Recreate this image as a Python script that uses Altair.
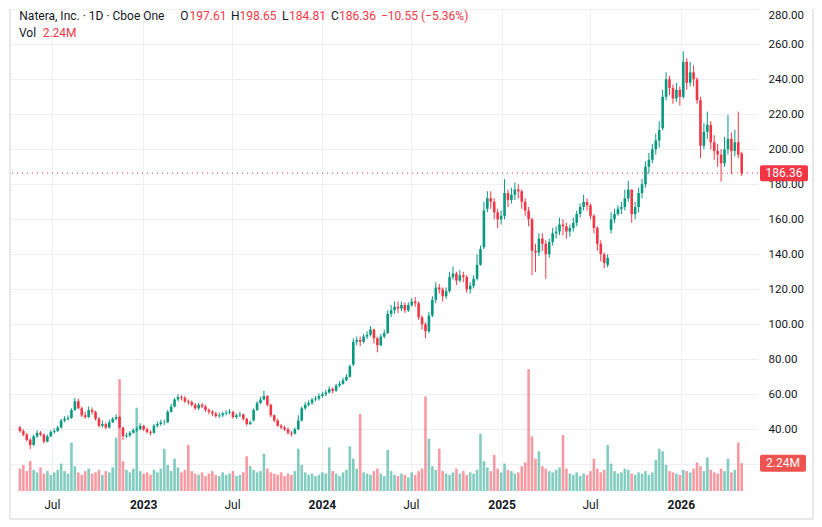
import altair as alt
import pandas as pd

FONT = "Roboto"
UP = "#089981"
DOWN = "#F23645"
INK = "#131722"
GRID = "#EEF0F4"
FRAME = "#E6E8EC"

# weekly candles (first week starting 2022-04-27)
WEEK_START = "2022-04-27"

opens = [
    41, 39, 37, 34, 31, 36, 38, 37, 33, 36,
    38.5, 39, 41, 45, 46, 46.5, 51, 56, 52, 48,
    47, 51, 50, 46, 42, 43, 41, 44, 46, 47,
    41, 36, 36.5, 38, 39.5, 40, 42, 40, 38.5, 38,
    42, 43, 44, 44, 50, 53, 57, 58.5, 58, 56,
    55.5, 54, 52, 54, 53, 51, 50, 49, 47.5, 48,
    49, 49.5, 50, 47, 48, 48.5, 46, 43, 45, 51,
    55, 57, 59, 54, 48, 45, 42, 41, 40, 38,
    37.5, 40, 45, 52, 54, 55, 57, 57.5, 59, 60,
    61, 63, 62, 65, 66, 68, 70, 77, 90, 91,
    90, 93, 94, 97, 92, 88, 93, 95, 106, 108,
    110, 109, 111, 108, 111, 113, 112, 104, 100, 96,
    105, 114, 121, 120, 116, 119, 127, 129, 125, 128,
    127, 120, 122, 126, 134, 144, 166, 172, 170, 164,
    160, 162, 175, 171, 174, 177, 176, 170, 165, 160,
    142, 141, 149, 146, 140, 147, 152, 153, 157, 156,
    153, 155, 158, 163, 167, 170, 168, 162, 155, 146,
    140, 134, 154, 160, 163, 166, 167, 172, 177, 163,
    167, 175, 180, 190, 194, 200, 205, 212, 230, 240,
    235, 229, 234, 230, 250, 238, 244, 240, 228, 202,
    210, 214, 204, 199, 197, 192, 200, 206, 199, 204, 197.61,
]
highs = [
    42, 40, 38, 35, 37, 39.5, 39, 37.5, 37, 39.5,
    40.5, 42, 46, 47.5, 48, 52, 58, 57.5, 53, 50,
    53, 52.5, 50.5, 47, 45, 44, 45.5, 47, 48.5, 47.5,
    41.5, 38, 39, 40.5, 41.5, 43.5, 42.5, 41, 39.5, 43,
    44.5, 45.5, 45.5, 51, 54.5, 58, 60, 59.5, 59, 57,
    56.5, 55, 55, 55, 54, 52, 51, 50, 49.5, 50,
    51, 51.5, 50.5, 49, 50, 49, 46.5, 45, 52, 56,
    58.5, 62, 59.5, 54.5, 48.5, 46, 43, 42, 41, 39,
    41, 48, 53, 55.5, 56.5, 58, 59, 60.5, 61.5, 62.5,
    64.5, 64, 66, 67.5, 69.5, 71.5, 77, 92, 93, 93,
    94.5, 96, 99, 97.5, 93, 94.5, 97, 108, 111, 113,
    113, 113, 112.5, 112.5, 115, 115.5, 113, 105, 101, 107,
    116, 124, 123, 121, 121, 130, 133, 130, 131, 130,
    128, 124, 128, 140, 145, 170, 176, 176, 172, 166,
    165, 183, 177, 178, 181, 180, 177, 172, 167, 161,
    146, 152, 152, 148, 149, 155, 156, 161, 160, 158,
    157, 161, 165, 169, 174, 172, 169, 163, 156, 148,
    141, 140, 164, 166, 168, 170, 177, 182, 177, 170,
    178, 183, 193, 198, 203, 209, 216, 234, 244, 242,
    237, 238, 236, 256, 252, 250, 248, 241, 230, 215,
    221.5, 216, 208, 203, 200, 207, 219.6, 209.6, 211, 221.5, 198.65,
]
lows = [
    38, 36, 33, 28.7, 30.5, 35, 36, 32, 32.5, 35.5,
    37.5, 38.5, 40.5, 44, 45, 46, 50.5, 51.5, 47, 46,
    46.5, 48.5, 45, 41, 41, 40, 40.5, 43.5, 45, 40.5,
    34, 35, 35.5, 37.5, 38.5, 39.5, 39, 37.5, 36.5, 37.5,
    41, 42, 42.5, 43.5, 49.5, 52.5, 56, 56.5, 55, 54,
    53, 51, 51, 52, 50, 48.5, 47.5, 46.5, 46.5, 47,
    48, 48.5, 46, 46, 47, 45, 42, 42.5, 44.5, 50.5,
    54.5, 56.5, 53, 47, 44, 41.5, 40, 39, 37, 36,
    37, 39.5, 44.5, 51, 53, 54, 56, 56.5, 58, 59,
    60.5, 60.5, 61.5, 64, 65.5, 67.5, 69.5, 76, 88, 87.5,
    89, 91.5, 93, 89, 84, 87.5, 92, 94.5, 104, 106,
    106.5, 107.5, 106.5, 107, 110, 110, 102.5, 97, 92, 95,
    104, 112, 117.5, 113, 114.5, 118, 125.5, 122.5, 124, 124,
    118, 117.5, 120.5, 125, 133.5, 143, 164, 166, 160, 155,
    157, 160, 167, 169, 171, 172, 166, 162, 156, 128,
    130, 139, 142, 126, 138, 145, 149, 151, 151, 149,
    150, 153, 156, 161, 165, 165, 160, 152, 142, 136,
    132, 132.5, 152, 158, 162, 163, 165, 170, 158, 160,
    164, 172, 178, 186, 192, 197, 201, 211, 228, 231,
    226, 227, 225, 229, 234, 236, 236, 226, 195, 200,
    206, 200, 194, 190, 181.5, 190, 197, 186, 196, 195, 184.81,
]
closes = [
    39, 37, 34, 31, 36, 38, 37, 33, 36, 38.5,
    39, 41, 45, 46, 46.5, 51, 56, 52, 48, 47,
    51, 50, 46, 42, 43, 41, 44, 46, 47, 41,
    36, 36.5, 38, 39.5, 40, 42, 40, 38.5, 38, 42,
    43, 44, 44, 50, 53, 57, 58.5, 58, 56, 55.5,
    54, 52, 54, 53, 51, 50, 49, 47.5, 48, 49,
    49.5, 50, 47, 48, 48.5, 46, 43, 44, 51, 55,
    57, 59, 54, 48, 45, 42, 41, 40, 38, 37.5,
    40, 45, 52, 54, 55, 57, 57.5, 59, 60, 61,
    63, 62, 65, 66, 68, 70, 76, 90, 91, 90,
    93, 94, 97, 92, 88, 93, 95, 106, 108, 110,
    109, 111, 108, 111, 113, 112, 104, 100, 96, 105,
    114, 121, 120, 116, 119, 127, 129, 125, 128, 127,
    120, 122, 126, 134, 143, 165, 172, 170, 164, 160,
    162, 175, 171, 174, 177, 176, 170, 165, 160, 142,
    141, 149, 146, 140, 147, 152, 153, 157, 156, 153,
    155, 158, 163, 167, 170, 168, 162, 155, 146, 140,
    135, 138, 160, 163, 166, 167, 172, 177, 163, 167,
    175, 180, 190, 194, 200, 205, 211, 230, 240, 235,
    229, 234, 230, 250, 238, 244, 240, 228, 202, 210,
    214, 204, 199, 197, 192, 200, 206, 199, 204, 196.91, 186.36,
]
volumes_m = [
    1.8, 2.1, 1.6, 2.4, 1.7, 1.5, 1.9, 1.4, 1.6, 1.3,
    1.5, 1.7, 2.2, 1.6, 1.4, 3.9, 2.0, 1.5, 1.3, 1.6,
    1.8, 1.4, 1.5, 1.7, 1.3, 1.6, 1.5, 1.9, 4.3, 9.0,
    2.4, 1.7, 1.5, 1.8, 6.7, 1.6, 1.4, 1.5, 1.3, 1.7,
    1.5, 1.8, 3.4, 2.1, 1.6, 2.6, 1.9, 1.5, 1.7, 3.7,
    1.6, 1.4, 1.3, 1.5, 1.2, 1.4, 1.6, 1.3, 1.2, 1.5,
    1.3, 1.4, 1.6, 1.2, 1.3, 1.5, 2.8, 2.0, 1.7, 1.5,
    1.6, 3.0, 1.8, 1.5, 1.4, 1.3, 1.5, 1.2, 1.4, 1.3,
    1.6, 3.4, 2.1, 1.5, 1.3, 1.4, 1.2, 1.3, 1.5, 1.4,
    3.5, 1.6, 1.4, 1.2, 1.5, 1.7, 3.6, 2.6, 1.8, 6.2,
    1.5, 1.4, 1.3, 1.6, 1.8, 1.4, 1.2, 3.3, 1.6, 1.3,
    1.2, 1.4, 1.3, 1.1, 1.5, 1.3, 1.6, 1.8, 7.6, 4.2,
    2.0, 1.7, 3.4, 1.6, 1.4, 1.3, 1.5, 1.8, 1.4, 1.6,
    1.3, 1.5, 1.4, 1.7, 4.6, 2.4, 1.9, 1.6, 2.9, 1.8,
    1.5, 2.2, 1.7, 1.6, 1.4, 1.5, 2.0, 2.3, 9.8, 4.4,
    2.6, 3.2, 2.0, 1.8, 1.6, 1.5, 1.7, 1.9, 4.5, 1.8,
    1.4, 1.3, 1.5, 1.2, 1.4, 1.3, 1.6, 2.6, 1.8, 1.5,
    1.7, 3.7, 2.2, 1.6, 1.4, 1.5, 1.8, 1.7, 1.4, 1.3,
    1.5, 1.4, 1.6, 1.3, 1.5, 2.5, 3.4, 3.2, 2.1, 1.6,
    1.5, 1.4, 1.3, 1.7, 1.6, 1.5, 1.8, 2.3, 2.0, 1.6,
    2.7, 1.7, 1.5, 1.4, 1.8, 1.6, 2.6, 1.5, 1.7, 3.9, 2.24,
]

TICK_DATES = [(2022, 7, 1), (2023, 1, 3), (2023, 7, 3), (2024, 1, 2),
              (2024, 7, 1), (2025, 1, 2), (2025, 7, 1), (2026, 1, 2)]
PRICE_TICKS = [20, 40, 60, 80, 100, 120, 140, 160, 180, 200, 220, 240, 260, 280]

TITLE = "Natera, Inc. · 1D · Cboe One"

n = len(closes)
df = pd.DataFrame({
    "date": pd.date_range(WEEK_START, periods=n, freq="7D").strftime("%Y-%m-%d"),
    "open": opens, "high": highs, "low": lows, "close": closes, "vol": volumes_m,
})
df["dir"] = ["up" if c >= o else "down" for o, c in zip(opens, closes)]
one = pd.DataFrame({"k": [0]})

last_o, last_h, last_l, last_c = opens[-1], highs[-1], lows[-1], closes[-1]
chg = last_c - closes[-2]
pct = chg / closes[-2] * 100
last_vol = volumes_m[-1]


def dt(y, m, d):
    return alt.DateTime(year=y, month=m, date=d, utc=True)


x_scale = alt.Scale(type="utc", domain=[dt(2022, 4, 15), dt(2026, 5, 29)])
x_axis = alt.Axis(
    values=[dt(*t) for t in TICK_DATES],
    labelExpr="utcmonth(datum.value) == 0 ? utcFormat(datum.value, '%Y') : utcFormat(datum.value, '%b')",
    labelFontWeight={"condition": {"test": "utcmonth(datum.value) == 0", "value": "bold"}, "value": "normal"},
    labelFont=FONT, labelFontSize=12, labelColor=INK, labelPadding=8,
    labelFlush=False, labelOverlap=False, ticks=False, domain=False,
    grid=True, gridColor=GRID, gridWidth=1, title=None,
)
X = alt.X("date:T", scale=x_scale, axis=x_axis)

color_scale = alt.Scale(domain=["up", "down"], range=[UP, DOWN])
C = alt.Color("dir:N", scale=color_scale, legend=None)

y_scale = alt.Scale(domain=[4.74, 280.74], nice=False, zero=False)
y_axis = alt.Axis(
    orient="right", values=PRICE_TICKS,
    labelExpr="datum.value < 30 ? '' : format(datum.value, '.2f')",
    labelBaseline={"condition": {"test": "datum.value >= 280", "value": "top"}, "value": "middle"},
    labelFont=FONT, labelFontSize=11.5, labelColor=INK, labelPadding=10,
    labelOverlap=False, labelFlush=False,
    ticks=False, domain=False, grid=True, gridColor=GRID, gridWidth=1, title=None,
)
Y_LAST = alt.YDatum(last_c, scale=y_scale, axis=y_axis)

wicks = alt.Chart(df).mark_rule(strokeWidth=1).encode(
    x=X, y=alt.Y("low:Q", scale=y_scale, axis=y_axis), y2="high:Q", color=C)
bodies = alt.Chart(df).mark_bar(size=2.6).encode(
    x=X, y=alt.Y("open:Q", scale=y_scale, axis=y_axis), y2="close:Q", color=C)
price_line = alt.Chart(one).mark_rule(color=DOWN, strokeDash=[1, 4], strokeWidth=1).encode(
    y=Y_LAST)
price_box = alt.Chart(one).mark_rect(color=DOWN, cornerRadius=2, yOffset=-8, y2Offset=8).encode(
    x=alt.value(751), x2=alt.value(799), y=Y_LAST, y2=alt.Y2Datum(last_c))
price_text = alt.Chart(one).mark_text(color="white", font=FONT, fontSize=12, align="center", baseline="middle").encode(
    x=alt.value(775), y=Y_LAST, text=alt.value(f"{last_c:.2f}"))
price_group = alt.layer(wicks, bodies, price_line, price_box, price_text)

v_scale = alt.Scale(domain=[0, 38.86], nice=False)
Y_VOL = alt.YDatum(last_vol, scale=v_scale, axis=None)
vol_bars = alt.Chart(df).mark_bar(size=2.6, opacity=0.5).encode(
    x=X, y=alt.Y("vol:Q", scale=v_scale, axis=None), color=C)
vol_box = alt.Chart(one).mark_rect(color="#EF5350", cornerRadius=2, yOffset=-8.5, y2Offset=8.5).encode(
    x=alt.value(751), x2=alt.value(797), y=Y_VOL, y2=alt.Y2Datum(last_vol))
vol_text = alt.Chart(one).mark_text(color="white", font=FONT, fontSize=12, align="center", baseline="middle").encode(
    x=alt.value(774), y=Y_VOL, text=alt.value(f"{last_vol:.2f}M"))
vol_group = alt.layer(vol_bars, vol_box, vol_text)

header_pieces = [
    (TITLE, 10.3, 8, INK),
    ("O", 171.3, 8, INK), (f"{last_o:.2f}", 180.5, 8, DOWN),
    ("H", 222, 8, INK), (f"{last_h:.2f}", 230.5, 8, DOWN),
    ("L", 273, 8, INK), (f"{last_l:.2f}", 280, 8, DOWN),
    ("C", 322, 8, INK), (f"{last_c:.2f}", 330, 8, DOWN),
    (f"{chg:+.2f} ({pct:+.2f}%)".replace("-", "\u2212"), 372, 8, DOWN),
    ("Vol", 10, 25, INK), (f"{last_vol:.2f}M", 33.7, 25, DOWN),
]
header = [
    alt.Chart(one).mark_text(align="left", baseline="middle", font=FONT, fontSize=12, color=col).encode(
        x=alt.value(px), y=alt.value(py), text=alt.value(s))
    for s, px, py, col in header_pieces
]

frame = [
    alt.Chart(one).mark_rule(color=FRAME, strokeWidth=2).encode(x=alt.value(1), x2=alt.value(804), y=alt.value(511)),
    alt.Chart(one).mark_rule(color=FRAME, strokeWidth=2).encode(x=alt.value(1), y=alt.value(1), y2=alt.value(511)),
    alt.Chart(one).mark_rule(color=FRAME, strokeWidth=2).encode(x=alt.value(804), y=alt.value(1), y2=alt.value(511)),
]

chart = alt.layer(vol_group, price_group, *frame, *header).resolve_scale(
    y="independent"
).properties(
    width=749, height=483, padding=0, background="white"
).configure_view(stroke=None)

chart.save("out.html", embed_options={"renderer": "svg", "actions": False})
